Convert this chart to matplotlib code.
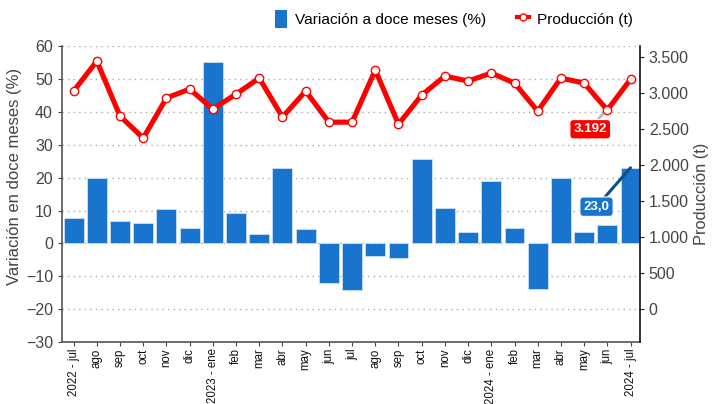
import matplotlib
matplotlib.use("Agg")
import matplotlib.pyplot as plt
from matplotlib.lines import Line2D
from matplotlib.patches import Patch

plt.rcParams['font.family'] = ['Liberation Sans', 'DejaVu Sans']

labels = ["2022 - jul", "ago", "sep", "oct", "nov", "dic", "2023 - ene", "feb", "mar",
          "abr", "may", "jun", "jul", "ago", "sep", "oct", "nov", "dic", "2024 - ene",
          "feb", "mar", "abr", "may", "jun", "2024 - jul"]
variacion = [7.8, 20.0, 6.7, 6.3, 10.4, 4.8, 55.3, 9.4, 3.0, 22.8, 4.5, -11.9, -14.0,
             -3.8, -4.3, 25.8, 10.9, 3.4, 18.9, 4.6, -13.7, 20.0, 3.6, 5.5, 23.0]
produccion = [3028, 3444, 2681, 2375, 2931, 3056, 2778, 2986, 3208, 2667, 3028, 2597,
              2597, 3319, 2569, 2972, 3236, 3167, 3278, 3139, 2750, 3208, 3139, 2764, 3192]

x = list(range(len(labels)))
blue = '#1874CD'
red = '#FF0000'

fig = plt.figure(figsize=(7.16, 4.04), dpi=100)
ax = fig.add_axes([0.0866, 0.153, 0.807, 0.733])
ax2 = ax.twinx()

ax.bar(x, variacion, width=0.86, color=blue, edgecolor='#cfe0f5', linewidth=0.6, zorder=2)
ax.set_ylim(-30, 60)
ax.set_yticks(range(-30, 61, 10))
ax.set_xlim(-0.5, 24.4)
ax.set_xticks(x)
ax.set_xticklabels(labels, rotation=90, fontsize=8.3, color='#111111')
ax.grid(axis='y', linestyle=(0, (1, 3)), color='#aaaaaa', linewidth=1.0, zorder=0)
ax.set_axisbelow(True)
ax.set_ylabel("Variación en doce meses (%)", fontsize=12.0, color='#444444')
ax.yaxis.set_label_coords(-0.069, 0.56)
ax.tick_params(axis='y', labelsize=11.5, labelcolor='#444444', length=3, color='#444444')
ax.tick_params(axis='x', length=3, color='#444444', pad=1.5)
for s in ['top', 'right']:
    ax.spines[s].set_visible(False)
for s in ['left', 'bottom']:
    ax.spines[s].set_color('#555555')
    ax.spines[s].set_linewidth(1.2)

ax2.plot(x, produccion, color=red, linewidth=3.7, marker='o', markersize=6,
         markerfacecolor='white', markeredgecolor=red, markeredgewidth=1.0, zorder=3)
ax2.set_ylim(-458, 3653)
ax2.set_yticks(range(0, 3501, 500))
ax2.set_yticklabels(['0', '500', '1.000', '1.500', '2.000', '2.500', '3.000', '3.500'])
ax2.tick_params(axis='y', labelsize=11.5, labelcolor='#444444', length=3, color='#222222')
ax2.set_ylabel("Producción (t)", fontsize=11.8, color='#444444', labelpad=4)
for s in ['top', 'left', 'bottom']:
    ax2.spines[s].set_visible(False)
ax2.spines['right'].set_color('#111111')
ax2.spines['right'].set_linewidth(1.2)

# annotations
ax2.annotate(f"{produccion[-1]:,}".replace(',', '.'), xy=(x[-1], produccion[-1]),
             xytext=(-29, -36), textcoords='offset points', ha='center', va='center',
             fontsize=9.5, fontweight='bold', color='white',
             bbox=dict(boxstyle='round,pad=0.28', fc=red, ec='white', lw=0.8),
             arrowprops=dict(arrowstyle='-', color='#bbbbbb', lw=2.0, linestyle='--',
                             shrinkA=0, shrinkB=2), zorder=1)
ax.annotate(f"{variacion[-1]:.1f}".replace('.', ','), xy=(x[-1], variacion[-1]),
            xytext=(-24.5, -28), textcoords='offset points', ha='center', va='center',
            fontsize=9.5, fontweight='bold', color='white',
            bbox=dict(boxstyle='round,pad=0.28', fc=blue, ec='white', lw=0.8),
            arrowprops=dict(arrowstyle='-', color='#0d4f8b', lw=2.2, shrinkA=0, shrinkB=0),
            zorder=4)

handles = [Patch(facecolor=blue, edgecolor='none'),
           Line2D([0], [0], color=red, linewidth=3, marker='o', markersize=5,
                  markerfacecolor='white', markeredgecolor=red)]
fig.legend(handles, ["Variación a doce meses (%)", "Producción (t)"], loc='center',
           bbox_to_anchor=(0.634, 0.953), ncol=2, frameon=False, fontsize=11.1,
           handlelength=0.8, handleheight=1.5, columnspacing=2.0, handletextpad=0.5)

fig.savefig("out.png", dpi=100)
